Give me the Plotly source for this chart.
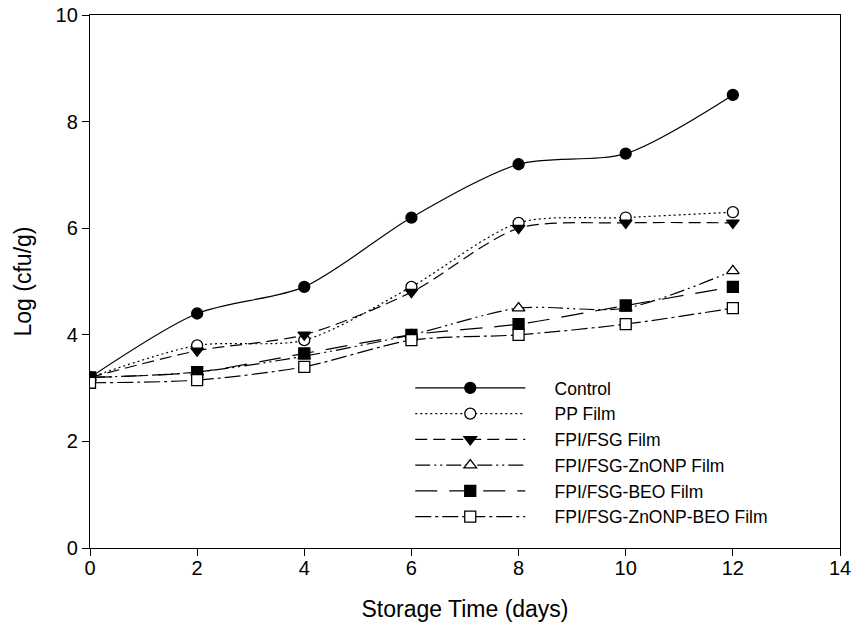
import plotly.graph_objects as go

days = [0, 2, 4, 6, 8, 10, 12]

control = [3.2, 4.4, 4.9, 6.2, 7.2, 7.4, 8.5]
pp_film = [3.2, 3.8, 3.9, 4.9, 6.1, 6.2, 6.3]
fsg_film = [3.2, 3.7, 4.0, 4.8, 6.0, 6.1, 6.1]
znonp_film = [3.2, 3.3, 3.6, 4.0, 4.5, 4.5, 5.2]
beo_film = [3.2, 3.3, 3.65, 4.0, 4.2, 4.55, 4.9]
znonp_beo_film = [3.1, 3.15, 3.4, 3.9, 4.0, 4.2, 4.5]

# name, values, symbol, filled?, dash
series = [
    ("Control", control, "circle", True, "solid"),
    ("PP Film", pp_film, "circle", False, "2px,3px"),
    ("FPI/FSG Film", fsg_film, "triangle-down", True, "12px,6px"),
    ("FPI/FSG-ZnONP Film", znonp_film, "triangle-up", False, "15px,4px,2px,4px,2px,4px"),
    ("FPI/FSG-BEO Film", beo_film, "square", True, "22px,12px"),
    ("FPI/FSG-ZnONP-BEO Film", znonp_beo_film, "square", False, "16px,4px,3px,4px"),
]

fig = go.Figure()
for name, vals, sym, filled, dash in series:
    fig.add_trace(go.Scatter(
        x=days, y=vals, name="\u00a0" * 5 + name, mode="lines+markers",
        line=dict(color="black", width=1.2, dash=dash, shape="spline", smoothing=0.8),
        marker=dict(symbol=sym, size=11, color="black" if filled else "white",
                    line=dict(color="black", width=1.3)),
    ))

axis_common = dict(
    showline=True, linecolor="black", linewidth=1.3, mirror=True,
    ticks="outside", ticklen=7, tickcolor="black", tickwidth=1.3,
    showgrid=False, zeroline=False, automargin=False,
    tickfont=dict(size=20, color="black"),
)

fig.update_layout(
    width=852, height=625,
    margin=dict(l=90, r=12, t=15, b=77),
    plot_bgcolor="white", paper_bgcolor="white",
    font=dict(family="Liberation Sans, Arial, sans-serif", color="black"),
    xaxis=dict(range=[0, 14], tickvals=[0, 2, 4, 6, 8, 10, 12, 14],
               ticklabelstandoff=-5,
               title=dict(text="Storage Time (days)", font=dict(size=23), standoff=22),
               **axis_common),
    yaxis=dict(range=[0, 10], tickvals=[0, 2, 4, 6, 8, 10],
               title=dict(text="Log (cfu/g)", font=dict(size=23), standoff=17),
               **axis_common),
    legend=dict(x=0.427, y=0.334, xanchor="left", yanchor="top",
                bgcolor="rgba(0,0,0,0)", font=dict(size=17.5),
                itemwidth=110, tracegroupgap=0),
)

# drop the default 8px body margin so the figure fills the window
fig.write_html("out.html", config={"displayModeBar": False},
               post_script="document.body.style.margin='0';")
